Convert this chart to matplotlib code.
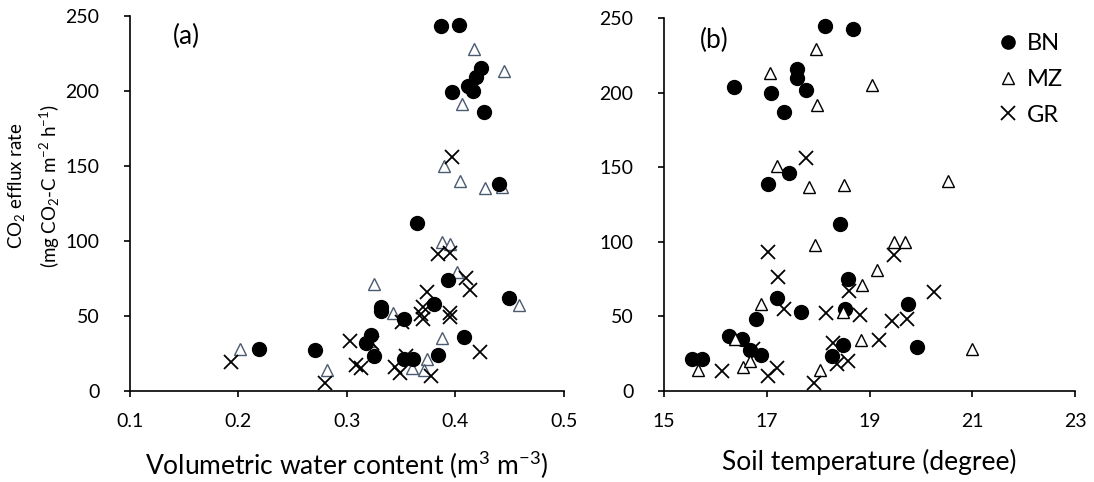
import matplotlib.pyplot as plt

plt.rcParams['font.family'] = ['Lato', 'DejaVu Sans']
plt.rcParams['mathtext.fontset'] = 'custom'
plt.rcParams['mathtext.rm'] = 'Lato'
plt.rcParams['mathtext.it'] = 'Lato:italic'
plt.rcParams['mathtext.bf'] = 'Lato:bold'
plt.rcParams['mathtext.default'] = 'regular'

# panel (a): volumetric water content vs CO2 efflux
vwc_bn = [0.387, 0.403, 0.424, 0.419, 0.412, 0.416, 0.397, 0.426, 0.440, 0.219,
          0.365, 0.393, 0.380, 0.331, 0.331, 0.353, 0.322, 0.318, 0.325, 0.271,
          0.353, 0.361, 0.384, 0.408, 0.449]
eff_bn_a = [243, 244, 215, 209, 203, 200, 199, 186, 138, 28,
            112, 74, 58, 56, 53, 48, 37, 32, 23, 27,
            21, 21, 24, 36, 62]
vwc_mz = [0.417, 0.445, 0.413, 0.406, 0.389, 0.404, 0.427, 0.443, 0.201, 0.282,
          0.325, 0.342, 0.320, 0.388, 0.395, 0.401, 0.388, 0.374, 0.360, 0.371,
          0.459]
eff_mz_a = [228, 213, 203, 191, 150, 140, 135, 136, 28, 14,
            71, 52, 33, 99, 98, 79, 35, 21, 15, 14,
            57]
vwc_gr = [0.397, 0.193, 0.384, 0.395, 0.410, 0.413, 0.374, 0.370, 0.368, 0.370,
          0.395, 0.395, 0.351, 0.303, 0.323, 0.308, 0.313, 0.344, 0.349, 0.354,
          0.377, 0.423, 0.280]
eff_gr_a = [156, 19, 91, 92, 75, 67, 66, 56, 51, 48,
            52, 49, 46, 33, 32, 17, 15, 16, 12, 23,
            10, 26, 5]

# panel (b): soil temperature vs CO2 efflux
tmp_bn = [18.13, 16.36, 17.08, 17.58, 17.58, 17.76, 17.34, 17.43, 17.03, 18.68,
          15.54, 15.73, 16.27, 16.51, 16.67, 16.88, 16.79, 17.19, 17.66, 18.26,
          18.42, 18.58, 18.52, 18.48, 19.74, 19.92]
eff_bn_b = [245, 204, 200, 216, 210, 202, 187, 146, 139, 243,
            21, 21, 37, 35, 27, 24, 48, 62, 53, 23,
            112, 75, 55, 31, 58, 29]
tmp_mz = [17.95, 17.06, 17.98, 17.19, 17.82, 19.04, 18.51, 20.53, 15.67, 16.39,
          16.54, 16.68, 16.88, 17.94, 18.04, 19.47, 19.69, 19.14, 18.85, 18.48,
          18.84, 20.99]
eff_mz_b = [229, 213, 192, 151, 137, 205, 138, 141, 14, 35,
            16, 20, 58, 98, 14, 100, 100, 81, 71, 53,
            34, 28]
tmp_gr = [17.77, 16.12, 17.03, 17.21, 17.34, 16.73, 17.03, 17.19, 17.91, 18.16,
          18.28, 18.36, 19.47, 18.59, 18.81, 19.44, 19.73, 19.19, 20.26, 18.58]
eff_gr_b = [156, 13, 93, 76, 55, 28, 10, 15, 5, 52,
            32, 18, 91, 67, 51, 47, 48, 34, 66, 20]

fig = plt.figure(figsize=(10.94, 4.82), dpi=100)
ax1 = fig.add_axes([0.1188, 0.1894, 0.3967, 0.778])
ax2 = fig.add_axes([0.607, 0.1894, 0.3757, 0.773])

ms_c, ms_t, ms_x = 10, 9, 10.5

ax1.plot(vwc_mz, eff_mz_a, '^', ms=ms_t, mfc='white', mec='#4a5a70', mew=1.0, ls='none')
ax1.plot(vwc_gr, eff_gr_a, 'x', ms=ms_x, color='black', mew=1.3, ls='none')
ax1.plot(vwc_bn, eff_bn_a, 'o', ms=ms_c, color='black', ls='none')

ax2.plot(tmp_bn, eff_bn_b, 'o', ms=ms_c, color='black', ls='none', label='BN')
ax2.plot(tmp_mz, eff_mz_b, '^', ms=ms_t, mfc='white', mec='black', mew=1.0, ls='none', label='MZ')
ax2.plot(tmp_gr, eff_gr_b, 'x', ms=ms_x, color='black', mew=1.3, ls='none', label='GR')

for ax in (ax1, ax2):
    ax.set_ylim(0, 250)
    ax.set_yticks([0, 50, 100, 150, 200, 250])
    ax.spines['top'].set_visible(False)
    ax.spines['right'].set_visible(False)
    ax.spines['left'].set_linewidth(1.2)
    ax.spines['bottom'].set_linewidth(1.2)
    ax.tick_params(direction='out', length=4, width=1.2, labelsize=14)
    ax.tick_params(axis='y', pad=18)
    ax.tick_params(axis='x', pad=12)

ax1.set_xlim(0.1, 0.5)
ax1.set_xticks([0.1, 0.2, 0.3, 0.4, 0.5])
ax1.set_xticklabels(['0.1', '0.2', '0.3', '0.4', '0.5'])
ax2.set_xlim(15, 23)
ax2.set_xticks([15, 17, 19, 21, 23])

ax1.set_xlabel('Volumetric water content (m$^{3}$ m$^{-3}$)', fontsize=19)
ax2.set_xlabel('Soil temperature (degree)', fontsize=19)
ax1.xaxis.set_label_coords(0.5, -0.155)
ax2.xaxis.set_label_coords(0.5, -0.156)
ax1.set_ylabel('CO$_{2}$ efflux rate\n(mg CO$_{2}$-C m$^{-2}$ h$^{-1}$)', fontsize=13.5,
               linespacing=1.55)
ax1.yaxis.set_label_coords(-0.157, 0.546)

ax1.text(0.1, 0.945, '(a)', transform=ax1.transAxes, fontsize=19, va='center')
ax2.text(0.087, 0.94, '(b)', transform=ax2.transAxes, fontsize=19, va='center')

ax2.legend(loc='upper left', bbox_to_anchor=(0.808, 0.959), frameon=False, fontsize=17,
           handletextpad=0.3, handlelength=1.0, labelspacing=0.62, borderaxespad=0,
           borderpad=0, markerscale=0.95)

fig.savefig('out.png', dpi=100)
